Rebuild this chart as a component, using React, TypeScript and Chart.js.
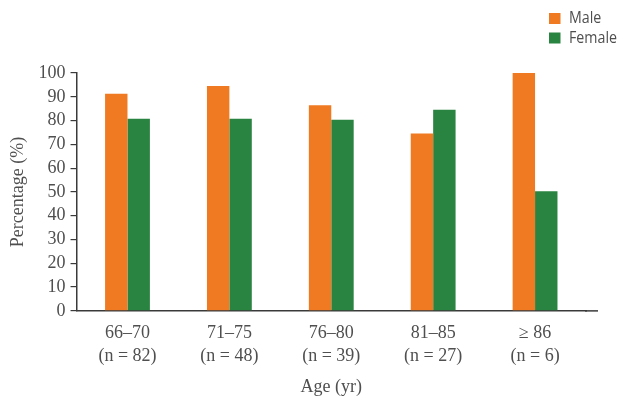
import React, { useEffect, useRef } from "react";
import { Chart, registerables } from "chart.js";

Chart.register(...registerables);

const categories: string[][] = [
  ["66–70", "(n = 82)"],
  ["71–75", "(n = 48)"],
  ["76–80", "(n = 39)"],
  ["81–85", "(n = 27)"],
  ["≥ 86", "(n = 6)"],
];
const maleValues = [91.3, 94.5, 86.4, 74.6, 100];
const femaleValues = [80.8, 80.8, 80.3, 84.6, 50.3];
const yTicks = [0, 10, 20, 30, 40, 50, 60, 70, 80, 90, 100];

const ORANGE = "#F07A22";
const GREEN = "#2A8441";
const TEXT = "#4f4f4f";
const AXIS = "#3a3a3a";
const SERIF = "'Liberation Serif', 'DejaVu Serif', serif";
const SANS = "'Open Sans', 'Liberation Sans', sans-serif";

const extendAxis = {
  id: "extendAxis",
  afterDraw(chart: any) {
    const { ctx, chartArea } = chart;
    ctx.save();
    ctx.strokeStyle = AXIS;
    ctx.lineWidth = 1.5;
    ctx.beginPath();
    ctx.moveTo(chartArea.right - 1, chartArea.bottom);
    ctx.lineTo(598, chartArea.bottom);
    ctx.stroke();
    ctx.restore();
  },
};

const sideLegend = {
  id: "sideLegend",
  afterDraw(chart: any) {
    const { ctx } = chart;
    ctx.save();
    ctx.font = `16px ${SANS}`;
    ctx.textBaseline = "middle";
    ctx.textAlign = "left";
    chart.data.datasets.forEach((ds: any, i: number) => {
      const cy = 18.5 + i * 19.5;
      ctx.fillStyle = ds.backgroundColor;
      ctx.fillRect(549, cy - 5.5, 11.5, 11);
      ctx.fillStyle = TEXT;
      ctx.save();
      ctx.translate(569, cy);
      ctx.scale(0.89, 1);
      ctx.fillText(ds.label, 0, 0);
      ctx.restore();
    });
    ctx.restore();
  },
};

export default function App() {
  const ref = useRef<HTMLCanvasElement>(null);
  useEffect(() => {
    document.body.style.margin = "0";
    const chart = new Chart(ref.current!, {
      type: "bar",
      data: {
        labels: categories,
        datasets: [
          { label: "Male", data: maleValues, backgroundColor: ORANGE },
          { label: "Female", data: femaleValues, backgroundColor: GREEN },
        ],
      },
      options: {
        responsive: false,
        animation: false,
        devicePixelRatio: 1,
        layout: { padding: { top: 73, right: 50, left: 0, bottom: 0 } },
        plugins: { legend: { display: false }, tooltip: { enabled: false } },
        datasets: { bar: { categoryPercentage: 0.44, barPercentage: 1 } },
        scales: {
          x: {
            grid: { display: false, drawTicks: false },
            border: { display: true, color: AXIS, width: 1.5 },
            ticks: {
              color: TEXT,
              padding: 11,
              font: { family: SERIF, size: 18, lineHeight: 1.28 },
              maxRotation: 0,
            },
            title: {
              display: true,
              text: "Age (yr)",
              color: TEXT,
              font: { family: SERIF, size: 18, lineHeight: 1.28 },
              padding: { top: -3, bottom: 7 },
            },
          },
          y: {
            min: 0,
            max: 100,
            afterBuildTicks: (scale: any) => {
              scale.ticks = yTicks.map((v) => ({ value: v }));
            },
            grid: {
              drawOnChartArea: false,
              drawTicks: true,
              tickLength: 6,
              color: AXIS,
              lineWidth: 1.2,
            },
            border: { display: true, color: AXIS, width: 1.5 },
            ticks: {
              color: TEXT,
              padding: 5,
              autoSkip: false,
              font: { family: SERIF, size: 18 },
            },
            title: {
              display: true,
              text: "Percentage (%)",
              color: TEXT,
              font: { family: SERIF, size: 18, lineHeight: 1.28 },
              padding: { top: 6.5, bottom: 4 },
            },
          },
        },
      },
      plugins: [extendAxis, sideLegend],
    });
    return () => chart.destroy();
  }, []);
  return <canvas ref={ref} width={636} height={406} />;
}
